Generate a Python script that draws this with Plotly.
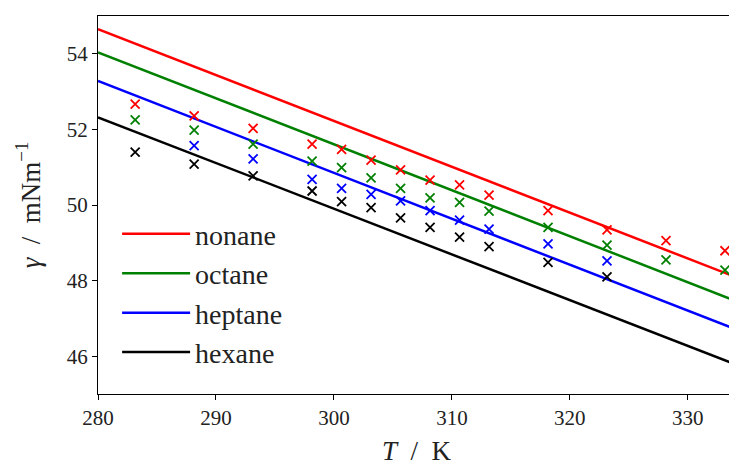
import plotly.graph_objects as go

# Measurement temperatures (K)
T_all = [283.15, 288.15, 293.15, 298.15, 300.65, 303.15, 305.65, 308.15,
         310.65, 313.15, 318.15, 323.15, 328.15, 333.15]
T_short = T_all[:12]
T_hept = T_all[1:12]

# Measured surface tension (mN/m)
nonane_pts = [52.67, 52.36, 52.03, 51.61, 51.47, 51.19, 50.93, 50.66,
              50.53, 50.26, 49.85, 49.34, 49.06, 48.79]
octane_pts = [52.25, 51.98, 51.61, 51.16, 50.99, 50.72, 50.44, 50.19,
              50.07, 49.84, 49.41, 48.94, 48.55, 48.28]
heptane_pts = [51.57, 51.22, 50.68, 50.44, 50.28, 50.11, 49.85,
               49.60, 49.36, 48.97, 48.52]
hexane_pts = [51.40, 51.08, 50.77, 50.37, 50.09, 49.93, 49.66, 49.41,
              49.15, 48.90, 48.48, 48.10]

# Straight reference lines (values at the ends of the T range)
line_T = [280, 334]
nonane_line = [54.65, 48.10]
octane_line = [54.04, 47.47]
heptane_line = [53.28, 46.72]
hexane_line = [52.32, 45.79]

x_ticks = [280, 290, 300, 310, 320, 330]
y_ticks = [46, 48, 50, 52, 54]

FONT = "Liberation Serif"

series = [
    ("nonane", "#ff0000", line_T, nonane_line, T_all, nonane_pts),
    ("octane", "#008000", line_T, octane_line, T_all, octane_pts),
    ("heptane", "#0000ff", line_T, heptane_line, T_hept, heptane_pts),
    ("hexane", "#000000", line_T, hexane_line, T_short, hexane_pts),
]

fig = go.Figure()
for name, color, lx, ly, px, py in series:
    fig.add_trace(go.Scatter(
        x=lx, y=ly, mode="lines", name=name, legendgroup=name,
        line=dict(color=color, width=2.5), showlegend=True))
for name, color, lx, ly, px, py in series:
    fig.add_trace(go.Scatter(
        x=px, y=py, mode="markers", name=name, legendgroup=name,
        showlegend=False,
        marker=dict(symbol="x-thin", size=9, color=color,
                    line=dict(color=color, width=1.8))))

axis_common = dict(
    showline=True, linecolor="black", linewidth=1.3, mirror=True,
    ticks="outside", ticklen=5, tickwidth=1.3, tickcolor="black",
    showgrid=False, zeroline=False,
    tickfont=dict(family=FONT, size=21, color="#222"),
)

# The page body adds an 8px margin; the figure size and margins account for it
fig.update_layout(
    width=729, height=458,
    margin=dict(l=90, r=2, t=8, b=72),
    paper_bgcolor="white", plot_bgcolor="white",
    font=dict(family=FONT, color="#222"),
    xaxis=dict(range=[280, 334], tickvals=x_ticks,
               ticktext=[str(v) for v in x_ticks],
               title=dict(text="<i>T</i>&nbsp;&nbsp;/&nbsp;&nbsp;K",
                          font=dict(family=FONT, size=27), standoff=15),
               **axis_common),
    yaxis=dict(range=[45, 55], tickvals=y_ticks,
               ticktext=[str(v) for v in y_ticks],
               title=dict(text="<i>γ</i>&nbsp;&nbsp;/&nbsp;&nbsp;mNm<sup>−1</sup>",
                          font=dict(family=FONT, size=27), standoff=18),
               **axis_common),
    legend=dict(x=0.03, y=0.489, xanchor="left", yanchor="top",
                bgcolor="rgba(255,255,255,0)", borderwidth=0,
                font=dict(family=FONT, size=28, color="#222"),
                tracegroupgap=0, itemwidth=68),
    showlegend=True,
)

fig.write_html("out.html")
